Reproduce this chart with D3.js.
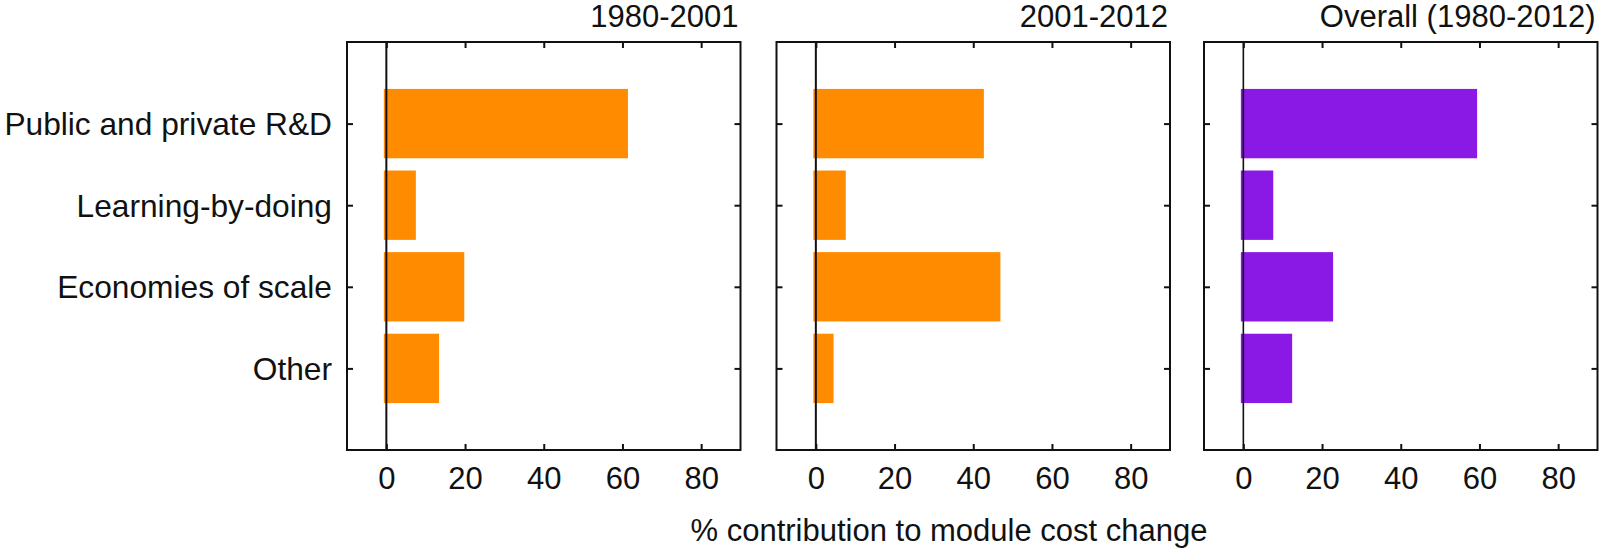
<!DOCTYPE html>
<html>
<head>
<meta charset="utf-8">
<script src="https://cdn.jsdelivr.net/npm/d3@7"></script>
<style>
  html, body { margin: 0; padding: 0; background: #fff; }
  svg text { font-family: "Liberation Sans", Arial, sans-serif; fill: #111; }
</style>
</head>
<body>
<svg id="chart" width="1600" height="552"></svg>
<script>
const categories = ["Public and private R&D", "Learning-by-doing", "Economies of scale", "Other"];
const panelTitles = ["1980-2001", "2001-2012", "Overall (1980-2012)"];
const values1980_2001 = [61.4, 7.5, 19.8, 13.4];
const values2001_2012 = [42.7, 7.6, 46.9, 4.5];
const valuesOverall = [59.4, 7.6, 22.8, 12.4];
const panelColors = ["#FF8C00", "#FF8C00", "#8A19E6"];
const xTicks = [0, 20, 40, 60, 80];
const xDomain = [-10, 90];
const xLabel = "% contribution to module cost change";

const panelValues = [values1980_2001, values2001_2012, valuesOverall];

(function () {
  const svg = d3.select("#chart");
  const plotTop = 42, plotBottom = 450, pw = 393.5;
  const lefts = [347, 776.5, 1204];
  const fontSize = 31;
  const catFontSize = 31.7;

  const y = d3.scaleLinear().domain([0, categories.length + 1]).range([plotTop, plotBottom]);
  const barH = (y(1) - y(0)) * 0.85;

  panelValues.forEach((vals, p) => {
    const L = lefts[p], R = L + pw;
    const x = d3.scaleLinear().domain(xDomain).range([L, R]);
    const g = svg.append("g");

    // bars
    g.selectAll("rect.bar").data(vals).enter().append("rect")
      .attr("class", "bar")
      .attr("x", x(0) - 2.5)
      .attr("y", (d, i) => y(i + 1) - barH / 2)
      .attr("width", d => x(d) - x(0) + 2.5)
      .attr("height", barH)
      .attr("fill", panelColors[p]);

    // zero line
    g.append("line")
      .attr("x1", x(0)).attr("x2", x(0))
      .attr("y1", plotTop).attr("y2", plotBottom)
      .attr("stroke", "#111").attr("stroke-width", p === 2 ? 1.6 : 2);

    // bottom axis (ticks inward, labels below)
    const axB = d3.axisBottom(x).tickValues(xTicks).tickSize(-6).tickPadding(0).tickFormat(d3.format("d"));
    const gb = g.append("g").attr("transform", `translate(0,${plotBottom})`).call(axB);
    gb.select(".domain").remove();
    gb.selectAll(".tick line").attr("stroke", "#111").attr("stroke-width", 2);
    gb.selectAll(".tick text").attr("font-size", fontSize).attr("dy", null).attr("y", 39)
      .style("font-family", "'Liberation Sans', Arial, sans-serif").attr("fill", "#111");

    // top axis ticks
    const axT = d3.axisTop(x).tickValues(xTicks).tickSize(-6).tickFormat("");
    const gt = g.append("g").attr("transform", `translate(0,${plotTop})`).call(axT);
    gt.select(".domain").remove();
    gt.selectAll(".tick line").attr("stroke", "#111").attr("stroke-width", 2);

    // left / right ticks
    const catPos = categories.map((c, i) => i + 1);
    const axL = d3.axisLeft(y).tickValues(catPos).tickSize(-6).tickFormat("");
    const gl = g.append("g").attr("transform", `translate(${L},0)`).call(axL);
    gl.select(".domain").remove();
    gl.selectAll(".tick line").attr("stroke", "#111").attr("stroke-width", 2);
    const axR = d3.axisRight(y).tickValues(catPos).tickSize(-6).tickFormat("");
    const gr = g.append("g").attr("transform", `translate(${R},0)`).call(axR);
    gr.select(".domain").remove();
    gr.selectAll(".tick line").attr("stroke", "#111").attr("stroke-width", 2);

    // frame
    g.append("rect")
      .attr("x", L).attr("y", plotTop).attr("width", pw).attr("height", plotBottom - plotTop)
      .attr("fill", "none").attr("stroke", "#111").attr("stroke-width", 2);

    // title
    g.append("text")
      .attr("x", R - 2).attr("y", 27)
      .attr("text-anchor", "end")
      .attr("font-size", fontSize)
      .text(panelTitles[p]);

    // category labels on first panel
    if (p === 0) {
      g.selectAll("text.cat").data(categories).enter().append("text")
        .attr("class", "cat")
        .attr("x", L - 15)
        .attr("y", (d, i) => y(i + 1))
        .attr("dy", "0.36em")
        .attr("text-anchor", "end")
        .attr("font-size", catFontSize)
        .text(d => d);
    }
  });

  svg.append("text")
    .attr("x", 949).attr("y", 541)
    .attr("text-anchor", "middle")
    .attr("font-size", fontSize)
    .text(xLabel);
})();
</script>
</body>
</html>
